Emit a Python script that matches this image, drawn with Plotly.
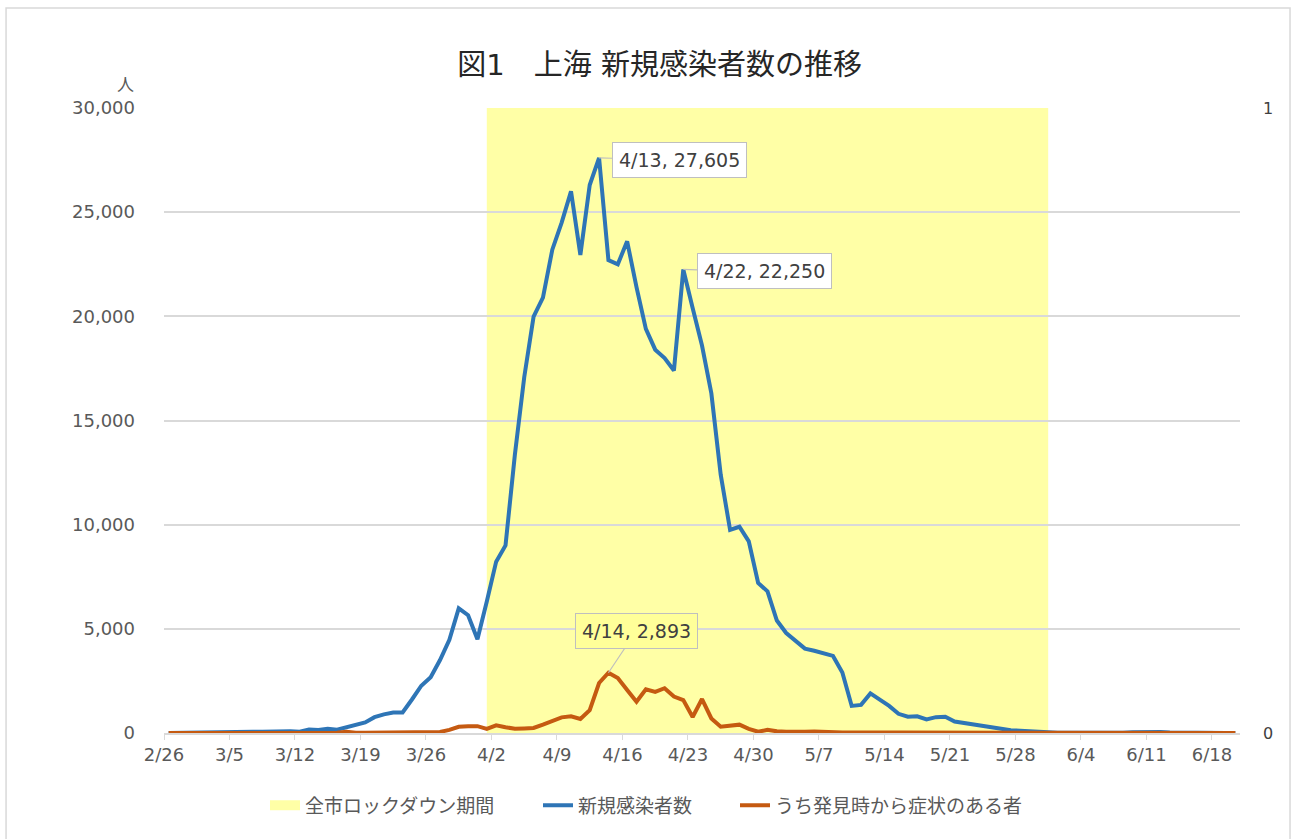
import pandas as pd
import plotly.graph_objects as go

# ---------------- data ----------------
start_date = "2022-02-26"          # first day of the series (2/26 ... 6/20)
axis_end = "2022-06-21"

new_cases = [
    0, 1, 2,                                                     # 2/26-2/28
    2, 8, 16, 19, 16, 48, 55, 65, 80, 75, 83, 65, 169, 139, 202, 158,
    260, 374, 509, 758, 896, 981, 983, 1609, 2269, 2676, 3500, 4477,
    5982, 5653, 4502,                                            # March
    6311, 8226, 9006, 13354, 17077, 19982, 20900, 23200, 24500, 26000,
    22950, 26300, 27605, 22700, 22500, 23600, 21400, 19400, 18400, 18000,
    17400, 22250, 20400, 18600, 16300, 12400, 9750, 9900, 9200, 7200,  # April
    6800, 5400, 4800, 4400, 4050, 3950, 3800, 3700, 2900, 1300,
    1350, 1900, 1600, 1300, 920, 780, 800, 650, 760, 780,
    550, 480, 400, 320, 270, 200, 130, 110, 80, 40, 20,          # May
    15, 10, 5, 5, 5, 4, 5, 10, 40, 50,
    60, 45, 25, 15, 10, 8, 6, 5, 5, 5,                           # June 1-20
]

symptomatic = [
    0, 0, 0,
    1, 0, 2, 3, 2, 3, 4, 3, 4, 11, 5, 1, 41, 9, 5, 8,
    57, 8, 17, 24, 31, 4, 4, 29, 38, 45, 50, 150,
    300, 330, 330,
    200, 370, 280, 200, 220, 240, 400, 550, 750, 800,
    670, 1100, 2400, 2893, 2640, 2060, 1500, 2100, 1970, 2150,
    1750, 1580, 770, 1630, 700, 300, 370, 400, 200, 60,
    150, 80, 60, 40, 60, 70, 70, 60, 30, 20,
    30, 40, 30, 25, 20, 20, 15, 15, 20, 15,
    10, 10, 8, 8, 6, 5, 5, 5, 4, 4, 3,
    3, 2, 2, 2, 2, 2, 2, 2, 3, 4,
    4, 3, 3, 2, 2, 2, 2, 2, 2, 2,
]

lockdown_start = "2022-04-01"
lockdown_end = "2022-05-31"

tick_dates = ["2022-02-26", "2022-03-05", "2022-03-12", "2022-03-19", "2022-03-26",
              "2022-04-02", "2022-04-09", "2022-04-16", "2022-04-23", "2022-04-30",
              "2022-05-07", "2022-05-14", "2022-05-21", "2022-05-28", "2022-06-04",
              "2022-06-11", "2022-06-18"]
tick_labels = ["2/26", "3/5", "3/12", "3/19", "3/26", "4/2", "4/9", "4/16", "4/23",
               "4/30", "5/7", "5/14", "5/21", "5/28", "6/4", "6/11", "6/18"]

y_ticks = [0, 5000, 10000, 15000, 20000, 25000, 30000]

callouts = [  # (series, date label, date)
    ("new", "4/13", "2022-04-13"),
    ("new", "4/22", "2022-04-22"),
    ("sym", "4/14", "2022-04-14"),
]

title_text = "図1　上海 新規感染者数の推移"
names = ["全市ロックダウン期間", "新規感染者数", "うち発見時から症状のある者"]

# ---------------- styling ----------------
FONT = "DejaVu Sans, Noto Sans CJK JP, sans-serif"
BLUE = "#2E75B6"
ORANGE = "#C55A11"
BAND = "#FFFFA6"
GRID = "#D9D9D9"
TXT = "#595959"

half_day = pd.Timedelta(hours=12)
dates = pd.date_range(start_date, periods=len(new_cases), freq="D")
x_pts = dates + half_day
series = {"new": new_cases, "sym": symptomatic}

fig = go.Figure()

# legend entry for lockdown band (band itself drawn as shape below gridlines)
fig.add_trace(go.Scatter(
    x=[None], y=[None], mode="lines", name=names[0],
    line=dict(color=BAND, width=18), yaxis="y2", hoverinfo="skip",
    legend="legend", showlegend=True))

fig.add_trace(go.Scatter(
    x=x_pts, y=new_cases, mode="lines", name=names[1],
    line=dict(color=BLUE, width=4), legend="legend2", showlegend=True))
fig.add_trace(go.Scatter(
    x=x_pts, y=symptomatic, mode="lines", name=names[2],
    line=dict(color=ORANGE, width=4), legend="legend3", showlegend=True))

# lockdown band
fig.add_shape(type="rect", xref="x", yref="y2",
              x0=pd.Timestamp(lockdown_start) + half_day,
              x1=pd.Timestamp(lockdown_end) + half_day,
              y0=0, y1=1, fillcolor=BAND, line=dict(width=0), layer="below")

# outer chart frame
fig.add_shape(type="rect", xref="paper", yref="paper",
              x0=-0.1468, x1=1.0465, y0=-0.2, y1=1.16,
              line=dict(color=GRID, width=1.5), fillcolor="rgba(0,0,0,0)", layer="below")

# callouts
offsets = {"4/13": (80, 2, "white"), "4/22": (81, 2, "white"), "4/14": (28, -42, "#FFFF99")}
for key, lab, d in callouts:
    idx = list(dates.strftime("%Y-%m-%d")).index(d)
    val = series[key][idx]
    ax, ay, bg = offsets[lab]
    fig.add_annotation(
        x=x_pts[idx], y=val, xref="x", yref="y",
        text=f"{lab}, {val:,}", showarrow=True, arrowhead=0, arrowwidth=1.2,
        arrowcolor="#BFBFBF", ax=ax, ay=ay, bgcolor=bg, bordercolor="#BFBFBF",
        borderwidth=1, borderpad=6, font=dict(family=FONT, size=19, color="#404040"))

# unit label
fig.add_annotation(text="人", xref="paper", yref="paper", x=-0.036, y=1.036,
                   xanchor="center", yanchor="middle",
                   showarrow=False, font=dict(family=FONT, size=17, color=TXT))

leg_common = dict(orientation="h", xref="container", yref="container",
                  y=0.04, xanchor="left", yanchor="middle",
                  font=dict(family=FONT, size=19, color=TXT),
                  bgcolor="rgba(0,0,0,0)", visible=True)

fig.update_layout(
    width=1296, height=839,
    showlegend=True,
    margin=dict(l=164, r=56, t=108, b=106),
    paper_bgcolor="white", plot_bgcolor="white",
    font=dict(family=FONT, color=TXT),
    title=dict(text=title_text, xref="container", yref="container",
               x=0.509, y=0.9225, xanchor="center", yanchor="middle",
               font=dict(family=FONT, size=29, color="#262626")),
    legend=dict(x=265 / 1296, **leg_common),
    legend2=dict(x=538 / 1296, **leg_common),
    legend3=dict(x=735 / 1296, **leg_common),
    xaxis=dict(type="date", range=[start_date, axis_end],
               tickvals=tick_dates, ticktext=tick_labels,
               ticks="outside", ticklen=5, tickcolor=GRID,
               showline=True, linecolor=GRID, linewidth=1.5,
               showgrid=False, zeroline=False,
               tickfont=dict(family=FONT, size=18, color=TXT)),
    yaxis=dict(range=[0, 30000], tickvals=y_ticks, tickformat=",",
               showgrid=True, gridcolor=GRID, gridwidth=1.5,
               zeroline=False, showline=False, ticks="",
               ticklabelstandoff=28,
               tickfont=dict(family=FONT, size=18, color=TXT)),
    yaxis2=dict(overlaying="y", side="right", range=[0, 1], tickvals=[0, 1],
                showgrid=False, zeroline=False, showline=False, ticks="",
                ticklabelstandoff=22,
                tickfont=dict(family=FONT, size=16, color="#404040")),
)

fig.write_html("out.html")
